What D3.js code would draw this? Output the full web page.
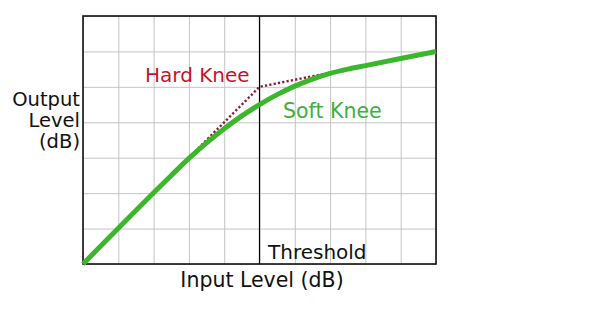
<!DOCTYPE html>
<html>
<head>
<meta charset="utf-8">
<script src="https://cdn.jsdelivr.net/npm/d3@7"></script>
<style>
  html, body { margin: 0; padding: 0; background: #fff; }
  text { font-family: "DejaVu Sans", Verdana, sans-serif; }
</style>
</head>
<body>
<div id="chart"></div>
<script>
// Values (grid units)
const gridX = [0, 1, 2, 3, 4, 5, 6, 7, 8, 9, 10];
const gridY = [0, 1, 2, 3, 4, 5, 6, 7];
const threshold = 5;

// soft knee curve (input, output)
const softX = [0, 2.5, 3, 3.5, 4, 4.5, 5, 5.5, 6, 6.5, 7, 7.5, 8, 10];
const softY = [0, 2.5, 2.98, 3.42, 3.82, 4.18, 4.5, 4.78, 5.02, 5.22, 5.38, 5.5, 5.6, 6.0];

// hard knee (dotted part only)
const hardX = [3, 5, 7.5];
const hardY = [3, 5, 5.5];

const yTitleLines = ['Output', 'Level', '(dB)'];

const width = 604;
const height = 309;
const plot = { left: 83, top: 16, right: 436, bottom: 264 };

const drawChart = () => {
    const x = d3.scaleLinear().domain([0, 10]).range([plot.left, plot.right]);
    const y = d3.scaleLinear().domain([0, 7]).range([plot.bottom, plot.top]);

    const svg = d3.select('#chart')
        .append('svg')
        .attr('width', width)
        .attr('height', height);

    // grid
    svg.append('g')
        .attr('transform', `translate(0,${plot.bottom})`)
        .call(d3.axisBottom(x).tickValues(gridX).tickSize(-(plot.bottom - plot.top)).tickFormat(''))
        .call(g => g.select('.domain').remove())
        .selectAll('line').attr('stroke', '#c4c4c4').attr('stroke-width', 1);

    svg.append('g')
        .attr('transform', `translate(${plot.left},0)`)
        .call(d3.axisLeft(y).tickValues(gridY).tickSize(-(plot.right - plot.left)).tickFormat(''))
        .call(g => g.select('.domain').remove())
        .selectAll('line').attr('stroke', '#c4c4c4').attr('stroke-width', 1);

    // threshold line
    svg.append('line')
        .attr('x1', x(threshold)).attr('x2', x(threshold))
        .attr('y1', y(0)).attr('y2', y(7))
        .attr('stroke', '#000')
        .attr('stroke-width', 1.2);

    // frame
    svg.append('rect')
        .attr('x', x(0)).attr('y', y(7))
        .attr('width', x(10) - x(0))
        .attr('height', y(0) - y(7))
        .attr('fill', 'none')
        .attr('stroke', '#111')
        .attr('stroke-width', 1.6);

    const line = d3.line().x(d => x(d[0])).y(d => y(d[1]));

    // hard knee dotted
    svg.append('path')
        .datum(hardX.map((v, i) => [v, hardY[i]]))
        .attr('d', line)
        .attr('fill', 'none')
        .attr('stroke', '#8e1a36')
        .attr('stroke-width', 2.4)
        .attr('stroke-dasharray', '2.2,2.2');

    // soft knee
    svg.append('path')
        .datum(softX.map((v, i) => [v, softY[i]]))
        .attr('d', line.curve(d3.curveMonotoneX))
        .attr('fill', 'none')
        .attr('stroke', '#3cb72c')
        .attr('stroke-width', 5)
        .attr('stroke-linejoin', 'round');

    // labels
    svg.append('text')
        .attr('x', 145).attr('y', 82)
        .attr('font-size', 20)
        .attr('fill', '#c0152c')
        .text('Hard Knee');

    svg.append('text')
        .attr('x', 283).attr('y', 118)
        .attr('font-size', 20.5)
        .attr('fill', '#3cb040')
        .text('Soft Knee');

    svg.append('text')
        .attr('x', 268).attr('y', 259)
        .attr('font-size', 20)
        .attr('fill', '#111')
        .text('Threshold');

    svg.append('text')
        .attr('x', 262).attr('y', 287)
        .attr('text-anchor', 'middle')
        .attr('font-size', 20.5)
        .attr('fill', '#111')
        .text('Input Level (dB)');

    svg.selectAll('text.ytitle')
        .data(yTitleLines)
        .join('text')
        .attr('class', 'ytitle')
        .attr('x', 80)
        .attr('y', (d, i) => 106 + i * 21)
        .attr('text-anchor', 'end')
        .attr('font-size', 19.5)
        .attr('fill', '#111')
        .text(d => d);
};

document.addEventListener('DOMContentLoaded', drawChart);
</script>
</body>
</html>
